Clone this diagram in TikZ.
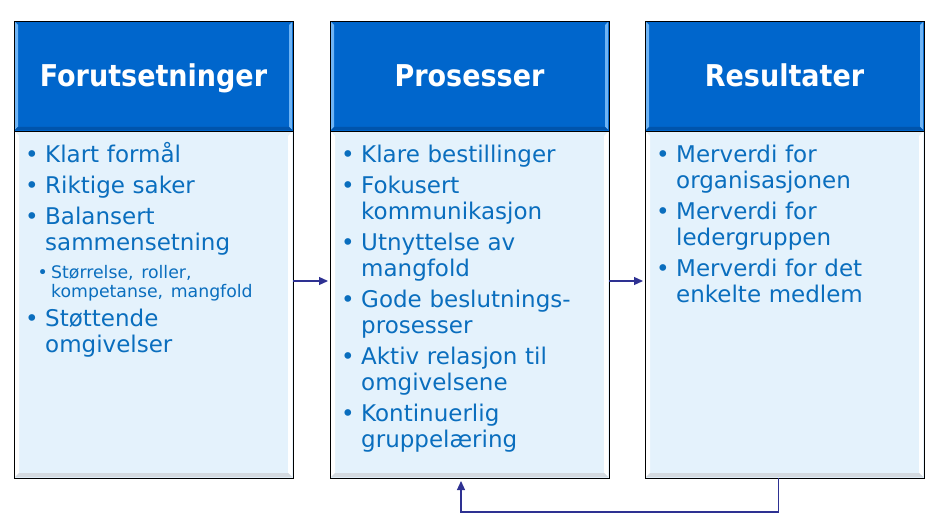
\documentclass[tikz,border=0pt]{standalone}
\usepackage{fontspec}
\setmainfont{DejaVu Sans}
\newfontfamily\headfont{DejaVu Sans Condensed}
\usetikzlibrary{positioning,arrows.meta}

\definecolor{headblue}{RGB}{0,102,204}
\definecolor{headedge}{RGB}{110,180,245}
\definecolor{headlow}{RGB}{0,84,172}
\definecolor{bodyblue}{RGB}{228,242,252}
\definecolor{bodylow}{RGB}{212,218,224}
\definecolor{txtblue}{RGB}{10,110,190}
\definecolor{arrblue}{RGB}{46,49,146}

% bullet items, hanging under the text
\newcommand\itm[1]{\hangindent=26.6pt\hangafter=1\noindent\makebox[26.6pt][c]{\textbullet}#1\par}
\newcommand\subitm[1]{\vspace{4pt}{\fontsize{17.3}{19}\selectfont\hangindent=32.6pt\hangafter=1\noindent\hspace*{15.6pt}\makebox[17pt][c]{\textbullet}#1\par}\vspace{-2pt}}

\begin{document}
\begin{tikzpicture}[x=1pt,y=-1pt,
    head/.style={draw=black, line width=0.8pt, fill=headblue, minimum width=279pt, minimum height=110pt,
      inner sep=0pt, outer sep=0pt, text=white, text height=22pt, text depth=0pt,
      font=\headfont\bfseries\fontsize{30}{36}\selectfont},
    body/.style={draw=black, line width=0.8pt, fill=bodyblue, minimum width=279pt, minimum height=347pt,
      inner sep=0pt, outer sep=0pt},
    items/.style={anchor=base west, inner sep=0pt, text width=262pt, align=left, text=txtblue,
      font=\fontsize{23}{26}\selectfont, execute at begin node={\setlength{\parskip}{5pt}}},
    arr/.style={draw=arrblue, line width=1.2pt, -{Triangle[length=9pt,width=8pt]}}]
  \useasboundingbox (0,0) rectangle (939,521);

  \node[head] (hd1) at (153.5,76) {Forutsetninger};
  \node[head, right=37pt of hd1] (hd2) {Prosesser};
  \node[head, right=36pt of hd2] (hd3) {Resultater};
  \node[body, below=0pt of hd1] (bd1) {};
  \node[body, below=0pt of hd2] (bd2) {};
  \node[body, below=0pt of hd3] (bd3) {};

  % bevelled edges
  \foreach \i in {1,2,3} {
    \fill[headedge] ([shift={(1,1)}]hd\i.north west) -- ([shift={(4,4)}]hd\i.north west)
      -- ([shift={(4,-4)}]hd\i.south west) -- ([shift={(1,-1)}]hd\i.south west) -- cycle;
    \fill[headedge] ([shift={(-1,1)}]hd\i.north east) -- ([shift={(-4,4)}]hd\i.north east)
      -- ([shift={(-4,-4)}]hd\i.south east) -- ([shift={(-1,-1)}]hd\i.south east) -- cycle;
    \fill[headlow] ([shift={(1,-1)}]hd\i.south west) -- ([shift={(4,-4)}]hd\i.south west)
      -- ([shift={(-4,-4)}]hd\i.south east) -- ([shift={(-1,-1)}]hd\i.south east) -- cycle;
    \fill[white] ([shift={(1,1)}]bd\i.north west) -- ([shift={(5,5)}]bd\i.north west)
      -- ([shift={(5,-5)}]bd\i.south west) -- ([shift={(1,-1)}]bd\i.south west) -- cycle;
    \fill[white] ([shift={(-1,1)}]bd\i.north east) -- ([shift={(-5,5)}]bd\i.north east)
      -- ([shift={(-5,-5)}]bd\i.south east) -- ([shift={(-1,-1)}]bd\i.south east) -- cycle;
    \fill[bodylow] ([shift={(1,-1)}]bd\i.south west) -- ([shift={(5,-5)}]bd\i.south west)
      -- ([shift={(-5,-5)}]bd\i.south east) -- ([shift={(-1,-1)}]bd\i.south east) -- cycle;
  }

  \node[items] (it1) at ([xshift=4.4pt,yshift=-32pt]bd1.north west) {%
    \itm{Klart formål}\itm{Riktige saker}\itm{Balansert\newline sammensetning}%
    \subitm{Størrelse, roller,\newline kompetanse, mangfold}\itm{Støttende\newline omgivelser}};
  \node[items] (it2) at ([xshift=4.4pt,yshift=-32pt]bd2.north west) {%
    \itm{Klare bestillinger}\itm{Fokusert\newline kommunikasjon}\itm{Utnyttelse av\newline mangfold}%
    \itm{Gode beslutnings-\newline prosesser}\itm{Aktiv relasjon til\newline omgivelsene}%
    \itm{Kontinuerlig\newline gruppelæring}};
  \node[items] (it3) at ([xshift=4.4pt,yshift=-32pt]bd3.north west) {%
    \itm{Merverdi for\newline organisasjonen}\itm{Merverdi for\newline ledergruppen}%
    \itm{Merverdi for det\newline enkelte medlem}};

  \draw[arr, shorten >=2pt] ([yshift=23.5pt]bd1.east) -- ([yshift=23.5pt]bd2.west);
  \draw[arr, shorten >=2pt] ([yshift=23.5pt]bd2.east) -- ([yshift=23.5pt]bd3.west);
  \draw[arr, shorten >=3pt] ([xshift=-6pt]bd3.south) -- ++(0,34) -| ([xshift=-8.5pt]bd2.south);
\end{tikzpicture}
\end{document}
